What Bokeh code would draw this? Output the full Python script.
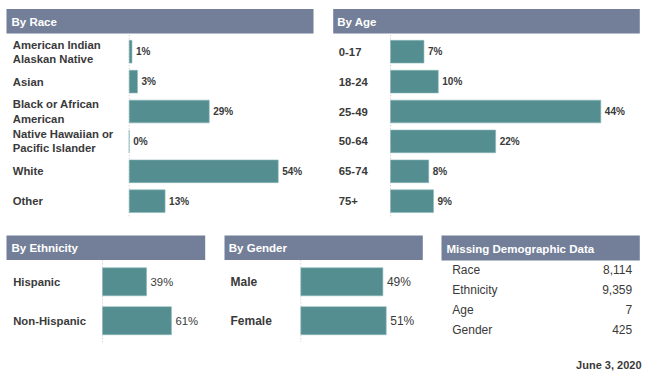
from bokeh.plotting import figure
from bokeh.models import Range1d, ColumnDataSource
from bokeh.core.properties import value
from bokeh.embed import file_html
from bokeh.resources import INLINE

# ---------------- data ----------------
race_categories = ["American Indian\nAlaskan Native", "Asian", "Black or African\nAmerican",
                   "Native Hawaiian or\nPacific Islander", "White", "Other"]
race_values = [1, 3, 29, 0, 54, 13]

age_categories = ["0-17", "18-24", "25-49", "50-64", "65-74", "75+"]
age_values = [7, 10, 44, 22, 8, 9]

ethnicity_categories = ["Hispanic", "Non-Hispanic"]
ethnicity_values = [39, 61]

gender_categories = ["Male", "Female"]
gender_values = [49, 51]

missing_categories = ["Race", "Ethnicity", "Age", "Gender"]
missing_values = [8114, 9359, 7, 425]

date_label = "June 3, 2020"

# ---------------- styles ----------------
FONT = value("Liberation Sans")
HEADER_FILL = "#737f99"
BAR_FILL = "#548e90"
TEXT = "#3a3a3a"
W, H = 646, 380
OX, OY = 0, 0  # default ranges are in page pixels

p = figure(width=W, height=H, output_backend="svg", toolbar_location=None,
           x_range=Range1d(OX, OX + W), y_range=Range1d(OY + H, OY),
           x_axis_location=None, y_axis_location=None,
           min_border=0, outline_line_color=None, background_fill_color="white",
           border_fill_color="white")
p.xgrid.visible = False
p.ygrid.visible = False


def add_x_range(name, zero_px, px_per_unit):
    p.extra_x_ranges[name] = Range1d((OX - zero_px) / px_per_unit, (OX + W - zero_px) / px_per_unit)


def add_y_range(name, first_px, pitch):
    p.extra_y_ranges[name] = Range1d((OY + H - first_px) / pitch, (OY - first_px) / pitch)


def header(left, right, top, bottom, title, text_x):
    p.quad(left=[left], right=[right], top=[top], bottom=[bottom],
           fill_color=HEADER_FILL, line_color=None)
    p.text(x=[text_x], y=[(top + bottom) / 2 + 0.5], text=[title], text_font=FONT,
           text_font_style="bold", text_font_size="11.5px", text_color="white",
           text_baseline="middle", text_align="left")


def bar_panel(name, cats, vals, zero_px, scale, first_px, pitch, bar_h, label_x,
              label_size, label_style, val_size, val_style, val_offset):
    add_x_range(name + "_x", zero_px, scale)
    add_y_range(name + "_y", first_px, pitch)
    idx = list(range(len(cats)))
    src = ColumnDataSource(dict(y=idx, v=vals, cat=cats, lab=[f"{v}%" for v in vals]))
    n = len(cats)
    p.segment(x0=[0], x1=[0], y0=[-0.55], y1=[n - 0.45], line_color="#c4c4c4",
              line_dash="1 2", line_width=1, x_range_name=name + "_x", y_range_name=name + "_y")
    p.hbar(y="y", left=0, right="v", height=bar_h, source=src, fill_color=BAR_FILL,
           line_color="#8fb8ba", line_width=0.6, x_range_name=name + "_x", y_range_name=name + "_y")
    p.text(x="v", y="y", text="lab", source=src, x_offset=val_offset, text_font=FONT,
           text_font_style=val_style, text_font_size=val_size, text_color=TEXT,
           text_baseline="middle", text_align="left",
           x_range_name=name + "_x", y_range_name=name + "_y")
    lsrc = ColumnDataSource(dict(x=[label_x] * n, y=idx, cat=cats))
    p.text(x="x", y="y", text="cat", source=lsrc, text_font=FONT,
           text_font_style=label_style, text_font_size=label_size, text_color=TEXT,
           text_baseline="middle", text_align="left", text_line_height=1.18,
           y_range_name=name + "_y")


# By Race
header(6, 313, 8.5, 33, "By Race", 11)
bar_panel("race", race_categories, race_values, 128.7, 2.76, 51.2, 29.9, 0.76, 12.3,
          "11.3px", "bold", "10px", "bold", 4)

# By Age
header(332.7, 639.3, 8.5, 33, "By Age", 336.7)
bar_panel("age", age_categories, age_values, 390, 4.78, 51.2, 29.9, 0.76, 338.3,
          "11.3px", "bold", "10px", "bold", 4)

# By Ethnicity
header(6, 204.7, 235, 259.5, "By Ethnicity", 11)
bar_panel("eth", ethnicity_categories, ethnicity_values, 102, 1.13, 281.3, 38.9, 0.72, 12.7,
          "11.3px", "bold", "11.3px", "normal", 4)

# By Gender
header(224, 422.3, 235, 259.5, "By Gender", 228.3)
bar_panel("gen", gender_categories, gender_values, 300.3, 1.675, 281.3, 38.9, 0.72, 230,
          "12px", "bold", "12px", "normal", 4)

# Missing Demographic Data
header(441, 639.3, 235, 260, "Missing Demographic Data", 446)
add_y_range("miss_y", 269.3, 20)
m_idx = list(range(len(missing_categories)))
msrc = ColumnDataSource(dict(xl=[451.7] * len(m_idx), xr=[631.7] * len(m_idx), y=m_idx,
                             cat=missing_categories, num=[f"{v:,}" for v in missing_values]))
p.text(x="xl", y="y", text="cat", source=msrc, text_font=FONT, text_font_size="12px",
       text_color=TEXT, text_baseline="middle", text_align="left", y_range_name="miss_y")
p.text(x="xr", y="y", text="num", source=msrc, text_font=FONT, text_font_size="12px",
       text_color=TEXT, text_baseline="middle", text_align="right", y_range_name="miss_y")

# date
p.text(x=[641], y=[364.5], text=[date_label], text_font=FONT, text_font_style="bold",
       text_font_size="11px", text_color=TEXT, text_baseline="middle", text_align="right")

open("out.html", "w").write(file_html(p, INLINE))
